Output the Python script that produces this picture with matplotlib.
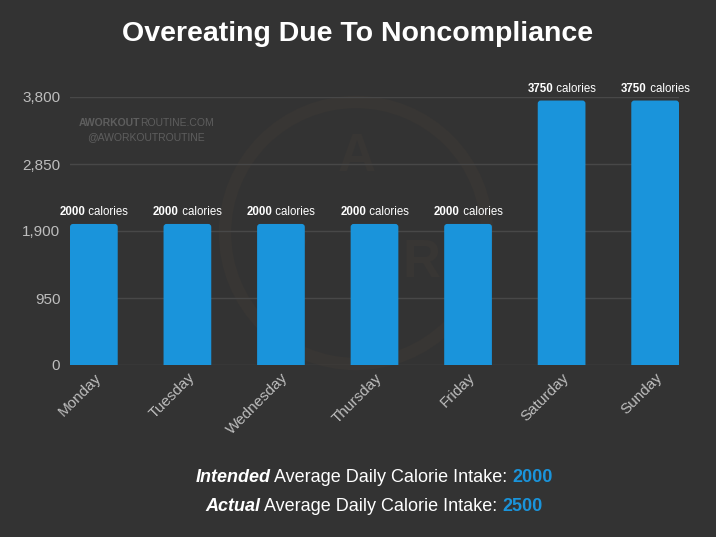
import matplotlib
matplotlib.use("Agg")
import matplotlib.pyplot as plt
from matplotlib.transforms import IdentityTransform
from matplotlib.patches import Circle, FancyBboxPatch

days = ["Monday", "Tuesday", "Wednesday", "Thursday", "Friday", "Saturday", "Sunday"]
calories = [2000, 2000, 2000, 2000, 2000, 3750, 3750]
yticks = [0, 950, 1900, 2850, 3800]
ytick_labels = ["0", "950", "1,900", "2,850", "3,800"]
intended_avg = 2000
actual_avg = 2500

BG = "#333333"
BAR = "#1a94db"
TICK = "#bdbdbd"
GRID = "#484848"
FONT = "Liberation Sans"
LOGO = "#383634"

W, H = 716, 537
fig = plt.figure(figsize=(W / 100, H / 100), dpi=100, facecolor=BG)
ax = fig.add_axes([70 / W, (H - 365) / H, (679 - 70) / W, (365 - 97) / H])
ax.set_facecolor("none")
ax.set_zorder(2)

# faint background logo
fig.patches.append(Circle((356, H - 233), 131, transform=IdentityTransform(),
                          fill=False, ec=LOGO, lw=9, zorder=0))
for s, (lx, ly) in [("A", (357, 157)), ("W", (282, 263)), ("R", (421, 263))]:
    fig.text(lx, H - ly, s, transform=IdentityTransform(), ha="center", va="center",
             color=LOGO, fontsize=38, fontweight="bold", family=FONT, zorder=0)

x = list(range(len(days)))
bars = ax.bar(x, calories, width=0.51, color=BAR, zorder=3)
ax.set_xlim(-0.255, 6.255)
ax.set_ylim(0, 3800)

# round the top corners of each bar
fig.canvas.draw()
px_x = (ax.get_xlim()[1] - ax.get_xlim()[0]) / ax.bbox.width
px_y = (ax.get_ylim()[1] - ax.get_ylim()[0]) / ax.bbox.height
rad = 3 * px_x
aspect = px_y / px_x
for rect in bars.patches:
    bx, bw, bh = rect.get_x(), rect.get_width(), rect.get_height()
    rect.set_visible(False)
    ax.add_patch(FancyBboxPatch((bx, -rad * aspect), bw, bh + rad * aspect,
                                boxstyle=f"round,pad=0,rounding_size={rad}",
                                mutation_aspect=aspect, fc=BAR, ec="none", zorder=3))

ax.set_yticks(yticks)
ax.set_yticklabels(ytick_labels)
ax.set_xticks(x)
ax.set_xticklabels(days, rotation=45, ha="right", rotation_mode="anchor")
ax.grid(axis="y", color=GRID, lw=1, zorder=0)
for s in ax.spines.values():
    s.set_visible(False)
ax.tick_params(axis="both", length=0, colors=TICK, labelsize=11)
ax.tick_params(axis="y", pad=7)
ax.tick_params(axis="x", pad=4)
for lab in ax.get_xticklabels() + ax.get_yticklabels():
    lab.set_fontfamily(FONT)

fig.canvas.draw()
renderer = fig.canvas.get_renderer()


def advance(t):
    """Approximate advance width of a text object's string in pixels."""
    prop = t.get_fontproperties()
    s = t.get_text()
    w1, _, _ = renderer.get_text_width_height_descent("|" + s + "|", prop, ismath=False)
    w2, _, _ = renderer.get_text_width_height_descent("||", prop, ismath=False)
    return w1 - w2


def rich(xc, yb, parts, size):
    objs = []
    for s, kw in parts:
        t = fig.text(0, 0, s, fontsize=size, transform=IdentityTransform(),
                     va="baseline", ha="left", zorder=5, **kw)
        objs.append(t)
    widths = [advance(t) for t in objs]
    cur = xc - sum(widths) / 2
    for t, w in zip(objs, widths):
        t.set_position((cur, yb))
        cur += w


# bar value labels
for xi, v in zip(x, calories):
    px, py = ax.transData.transform((xi, v))
    rich(px, py + 9, [(f"{v}", dict(color="white", fontweight="bold", family=FONT)),
                      (" calories", dict(color="white", family=FONT))], 8.3)

# title
fig.text(0.5, (H - 34) / H, "Overeating Due To Noncompliance", ha="center", va="center",
         color="white", fontsize=20.5, fontweight="bold", family=FONT)

# watermark
WM = "#5e5e5e"
rich(146, H - 126, [("AWORKOUT", dict(color=WM, fontweight="bold", family=FONT)),
                    ("ROUTINE.COM", dict(color=WM, family=FONT))], 7.5)
rich(146, H - 140, [("@AWORKOUTROUTINE", dict(color=WM, family=FONT))], 7.5)

# bottom summary
rich(374, H - 482, [("Intended", dict(color="white", fontweight="bold", fontstyle="italic", family=FONT)),
                    (" Average Daily Calorie Intake: ", dict(color="white", family=FONT)),
                    (f"{intended_avg}", dict(color=BAR, fontweight="bold", family=FONT))], 13)
rich(374, H - 511, [("Actual", dict(color="white", fontweight="bold", fontstyle="italic", family=FONT)),
                    (" Average Daily Calorie Intake: ", dict(color="white", family=FONT)),
                    (f"{actual_avg}", dict(color=BAR, fontweight="bold", family=FONT))], 13)

fig.savefig("out.png", dpi=100, facecolor=BG)
